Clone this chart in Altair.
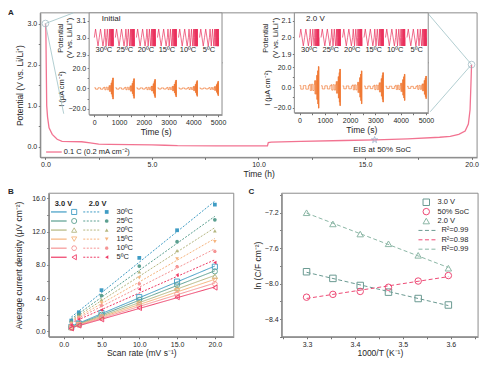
import altair as alt
import pandas as pd

FONT = "Liberation Sans"
W, H = 473, 353
SX, SY = W / 484.0, H / 364.0


def px(x):
    return (x - 5) * SX


def py(y):
    return (y - 3) * SY


TXT = "#262626"
FRAME = "#8c8c8c"
STAR = "M0,-1L0.2245,-0.309L0.951,-0.309L0.363,0.118L0.588,0.809L0,0.382L-0.588,0.809L-0.363,0.118L-0.951,-0.309L-0.2245,-0.309Z"
HEX = "M-1,0L-0.5,-0.866L0.5,-0.866L1,0L0.5,0.866L-0.5,0.866Z"

# ---------------- Panel A data ----------------
a_time = [0.0, 0.02, 0.04, 0.06, 0.1, 0.17, 0.32, 0.55, 0.78, 1.2, 1.7, 2.1, 2.5, 3.0, 4.0,
          5.0, 5.6, 6.2, 8.0, 10.0, 10.42, 10.46, 10.6, 12.0, 14.0, 15.5, 17.0, 18.5, 19.0,
          19.4, 19.7, 19.85, 19.93, 19.97, 20.0]
a_volt = [3.0, 2.85, 1.9, 1.0, 0.72, 0.46, 0.30, 0.18, 0.13, 0.125, 0.12, 0.09, 0.06, 0.055, 0.05,
          0.045, 0.035, 0.025, 0.02, 0.02, 0.02, 0.10, 0.11, 0.13, 0.15, 0.165, 0.19, 0.23, 0.25,
          0.30, 0.38, 0.55, 0.9, 1.5, 2.0]
zoom_t = [0.0, 20.0]
zoom_v = [3.0, 2.0]
eis_t = [15.45]
eis_v = [0.165]

# ---------------- shared temperature / scan-rate data ----------------
temps = ["30ºC", "25ºC", "20ºC", "15ºC", "10ºC", "5ºC"]
temp_colors = ["#3f9cc4", "#5b9f90", "#b4b67f", "#f6b47d", "#f59595", "#ee3c67"]
rates = [1, 2, 5, 10, 15, 20]
j_30V = [
    [0.52, 0.95, 2.20, 4.11, 5.98, 7.77],
    [0.48, 0.90, 2.00, 3.80, 5.56, 7.20],
    [0.45, 0.85, 1.83, 3.50, 5.18, 6.63],
    [0.42, 0.80, 1.71, 3.27, 4.87, 6.13],
    [0.39, 0.75, 1.60, 3.04, 4.49, 5.71],
    [0.36, 0.70, 1.44, 2.81, 4.11, 5.26],
]
j_20V = [
    [1.30, 2.29, 4.95, 8.83, 12.15, 15.23],
    [1.15, 2.00, 4.30, 7.84, 10.78, 13.40],
    [1.05, 1.83, 3.80, 7.15, 9.71, 12.07],
    [0.95, 1.67, 3.43, 6.43, 8.72, 10.78],
    [0.85, 1.60, 3.08, 5.71, 7.77, 9.60],
    [0.75, 1.44, 2.58, 5.06, 6.78, 8.26],
]
ins_starts = [0, 850, 1700, 2550, 3400, 4250]
GAIN = 1.35

# ---------------- Panel C data ----------------
inv_T = [3.299, 3.354, 3.411, 3.470, 3.532, 3.595]
c_30V = [-7.865, -7.94, -8.02, -8.095, -8.167, -8.24]
c_soc = [-8.152, -8.12, -8.087, -8.04, -7.97, -7.908]
c_20V = [-7.20, -7.326, -7.44, -7.55, -7.68, -7.825]
c_series = ["3.0 V", "50% SoC", "2.0 V"]
c_colors = ["#6b9a92", "#ee4b76", "#8cb7a6"]
c_shapes = ["square", "circle", "triangle-up"]
c_r2 = ["R²=0.99", "R²=0.98", "R²=0.99"]

one = pd.DataFrame({"k": [0]})
BOT = 342  # bottom frame line of panels B and C (reference pixels)


def xaxis(y_page, **kw):
    return alt.Axis(orient="bottom", offset=py(y_page) - H, **kw)


def yaxis(x_page, **kw):
    return alt.Axis(orient="left", offset=-px(x_page), **kw)


def box(x0, y0, x1, y1, fill=None):
    mk = dict(stroke=FRAME, strokeWidth=1)
    if fill:
        mk["fill"] = fill
    else:
        mk["fillOpacity"] = 0
    return alt.Chart(one).mark_rect(**mk).encode(
        x=alt.value(px(x0)), x2=alt.value(px(x1)), y=alt.value(py(y0)), y2=alt.value(py(y1)))


def label(text, x, y, size=8, weight="normal", align="left", color=TXT, baseline="middle"):
    return alt.Chart(one).mark_text(fontSize=size, fontWeight=weight, align=align,
                                    baseline=baseline, color=color, font=FONT).encode(
        x=alt.value(px(x)), y=alt.value(py(y)), text=alt.value(text))


layers = []

# ================= Panel A =================
sAx = alt.Scale(domain=[-0.243, 20.26], range=[px(38), px(485)], nice=False, zero=False)
sAy = alt.Scale(domain=[-0.26, 3.26], range=[py(157), py(8)], nice=False, zero=False)
axAx = xaxis(157, values=[i * 2.5 for i in range(9)],
             labelExpr="datum.value % 5 == 0 ? format(datum.value, '.1f') : ''",
             title="Time (h)", titlePadding=2)
axAy = yaxis(38, values=[i * 0.5 for i in range(7)],
             labelExpr="datum.value % 1 == 0 ? format(datum.value, '.1f') : ''",
             title="Potential (V vs. Li/Li⁺)", titlePadding=3)


def tA(xp):
    return (xp - 43.3) / 21.8


def vA(yp):
    return (146 - yp) / 42.33


guides = pd.DataFrame({"t": [0, 0, 20, 20], "v": [3.0, 3.0, 2.0, 2.0],
                       "t2": [tA(72), tA(62), tA(435), tA(437)],
                       "v2": [vA(8), vA(112), vA(9), vA(110)]})

layers.append(box(38, 8, 485, 157))
layers.append(alt.Chart(pd.DataFrame({"t": a_time, "v": a_volt})).mark_line(
    color="#f27391", strokeWidth=1.3).encode(
    x=alt.X("t:Q", scale=sAx, axis=axAx), y=alt.Y("v:Q", scale=sAy, axis=axAy)))
layers.append(alt.Chart(guides).mark_rule(color="#a9c8cc", strokeWidth=0.9).encode(
    x=alt.X("t:Q", scale=sAx, axis=None), y=alt.Y("v:Q", scale=sAy, axis=None),
    x2="t2:Q", y2="v2:Q"))
layers.append(alt.Chart(pd.DataFrame({"t": zoom_t, "v": zoom_v})).mark_point(
    shape="circle", filled=False, color="#9ab6c0", size=45, strokeWidth=1).encode(
    x=alt.X("t:Q", scale=sAx, axis=None), y=alt.Y("v:Q", scale=sAy, axis=None)))
layers.append(alt.Chart(pd.DataFrame({"t": eis_t, "v": eis_v})).mark_point(
    shape=STAR, filled=False, color="#8ea3c4", size=45, strokeWidth=1).encode(
    x=alt.X("t:Q", scale=sAx, axis=None), y=alt.Y("v:Q", scale=sAy, axis=None)))
layers.append(alt.Chart(pd.DataFrame({"t": [15.8], "v": [-0.08], "s": ["EIS at 50% SoC"]})).mark_text(
    fontSize=8, color=TXT, font=FONT).encode(
    x=alt.X("t:Q", scale=sAx, axis=None), y=alt.Y("v:Q", scale=sAy, axis=None), text="s:N"))
layers.append(alt.Chart(one).mark_rule(color="#f27391", strokeWidth=1.3).encode(
    x=alt.value(px(44)), x2=alt.value(px(60)), y=alt.value(py(151.5))))
layers.append(label("0.1 C (0.2 mA cm⁻²)", 62, 151.5, size=7.5))


# ================= Insets =================
def build_wave(center, cur_lists):
    pot, cur = [], []
    for g, t0 in enumerate(ins_starts):
        t = t0
        for rate, j in zip(rates, cur_lists[g]):
            q = 50.0 / rate
            a = j * GAIN
            for _ in range(2):
                for dt, dv in [(0, 0), (q, 0.05), (3 * q, -0.05), (4 * q, 0)]:
                    pot.append({"t": t + dt, "v": center + dv, "g": g, "i": len(pot)})
                for dt, s in [(0, 1), (q, 1), (q, -1), (3 * q, -1), (3 * q, 1), (4 * q, 1)]:
                    cur.append({"t": t + dt, "c": s * a, "g": g, "i": len(cur)})
                t += 4 * q
    return pd.DataFrame(pot), pd.DataFrame(cur)


def inset(x0, x1, xdom, ydom_up, ydom_lo, y_bot, center, cur_lists, title, title_t, yvals):
    out = [box(x0, 8, x1, y_bot, fill="white")]
    pot, cur = build_wave(center, cur_lists)
    sx = alt.Scale(domain=xdom, range=[px(x0), px(x1)], nice=False, zero=False)
    su = alt.Scale(domain=ydom_up, range=[py(59), py(8)], nice=False, zero=False)
    sl = alt.Scale(domain=ydom_lo, range=[py(y_bot), py(59)], nice=False, zero=False)
    tvals = [i * 500 for i in range(11)]
    out.append(alt.Chart(pot).mark_line(color="#ea2f5b", strokeWidth=0.7).encode(
        x=alt.X("t:Q", scale=sx, axis=xaxis(59, values=tvals, labels=False, title=None)),
        y=alt.Y("v:Q", scale=su, axis=yaxis(x0, values=yvals, format=".1f",
                                             title=["Potential", "(V vs. Li/Li⁺)"],
                                             titleFontSize=7.5, titlePadding=2)),
        detail="g:N", order="i:Q"))
    lbl = pd.DataFrame({"t": [s + 383 for s in ins_starts], "v": [center - 0.075] * 6, "s": temps})
    out.append(alt.Chart(lbl).mark_text(fontSize=7.5, color=TXT, font=FONT).encode(
        x=alt.X("t:Q", scale=sx, axis=None), y=alt.Y("v:Q", scale=su, axis=None), text="s:N"))
    ttl = pd.DataFrame({"t": [title_t], "v": [center + 0.108], "s": [title]})
    out.append(alt.Chart(ttl).mark_text(fontSize=8, color=TXT, font=FONT, align="left").encode(
        x=alt.X("t:Q", scale=sx, axis=None), y=alt.Y("v:Q", scale=su, axis=None), text="s:N"))
    out.append(alt.Chart(cur).mark_line(color="#f07a35", strokeWidth=0.7).encode(
        x=alt.X("t:Q", scale=sx, axis=xaxis(y_bot, values=tvals,
                                             labelExpr="datum.value % 1000 == 0 ? format(datum.value, 'd') : ''",
                                             title="Time (s)", titlePadding=2)),
        y=alt.Y("c:Q", scale=sl, axis=yaxis(x0, values=[-20, -10, 0, 10, 20],
                                             labelExpr="datum.value % 20 == 0 ? format(datum.value, '.1f') : ''",
                                             title="I (μA cm⁻²)", titleFontSize=7.5, titlePadding=2)),
        detail="g:N", order="i:Q"))
    return out


layers += inset(88, 224, [-210, 5158], [2.855, 3.145], [-26, 26], 113, 3.0, j_30V,
                "Initial", 300, [2.9, 3.0, 3.1])
layers += inset(298, 435, [-205, 5089], [1.853, 2.146], [-25.1, 24.8], 111, 2.0, j_20V,
                "2.0 V", 259, [1.9, 2.0, 2.1])

# ================= Panel B =================
rowsB = []
for volt, table in [("3.0 V", j_30V), ("2.0 V", j_20V)]:
    for temp, vals in zip(temps, table):
        for r, j in zip(rates, vals):
            rowsB.append({"volt": volt, "temp": temp, "rate": r, "j": j})
dfB = pd.DataFrame(rowsB)
sBx = alt.Scale(domain=[-1.98, 22.5], range=[px(46.7), px(236)], nice=False, zero=False)
sBy = alt.Scale(domain=[-0.65, 16.6], range=[py(BOT), py(194)], nice=False, zero=False)
sBc = alt.Scale(domain=temps, range=temp_colors)
b_shapes = ["square", "circle", "triangle-up", "triangle-down", HEX, "triangle-left"]
sBs = alt.Scale(domain=temps, range=b_shapes)
sBd = alt.Scale(domain=["3.0 V", "2.0 V"], range=[[1, 0], [2, 1.5]])
axBx = xaxis(BOT, values=[i * 2.5 for i in range(9)],
             labelExpr="datum.value % 5 == 0 ? format(datum.value, '.1f') : ''",
             title="Scan rate (mV s⁻¹)", titlePadding=1)
axBy = yaxis(46.7, values=[i * 2 for i in range(9)],
             labelExpr="datum.value % 4 == 0 ? format(datum.value, '.1f') : ''",
             title="Average current density (μV cm⁻²)", titlePadding=8)

layers.append(box(46.7, 194, 236, BOT))
layers.append(alt.Chart(dfB).transform_regression(
    "rate", "j", groupby=["volt", "temp"]).mark_line(strokeWidth=1).encode(
    x=alt.X("rate:Q", scale=sBx, axis=axBx), y=alt.Y("j:Q", scale=sBy, axis=axBy),
    color=alt.Color("temp:N", scale=sBc, legend=None),
    strokeDash=alt.StrokeDash("volt:N", scale=sBd, legend=None),
    detail="volt:N"))
layers.append(alt.Chart(dfB).transform_filter("datum.volt == '3.0 V'").mark_point(
    filled=False, size=26, strokeWidth=0.9, opacity=1).encode(
    x=alt.X("rate:Q", scale=sBx, axis=None), y=alt.Y("j:Q", scale=sBy, axis=None),
    color=alt.Color("temp:N", scale=sBc, legend=None),
    shape=alt.Shape("temp:N", scale=sBs, legend=None)))
layers.append(alt.Chart(dfB).transform_filter("datum.volt == '2.0 V'").mark_point(
    filled=True, size=14, opacity=1).encode(
    x=alt.X("rate:Q", scale=sBx, axis=None), y=alt.Y("j:Q", scale=sBy, axis=None),
    color=alt.Color("temp:N", scale=sBc, legend=None),
    shape=alt.Shape("temp:N", scale=sBs, legend=None)))

# Panel B legend
dfLB = pd.DataFrame({"temp": temps})
sLB = alt.Scale(type="point", domain=temps, range=[py(213.3), py(260)], padding=0)
yLB = alt.Y("temp:N", scale=sLB, axis=None)
cLB = alt.Color("temp:N", scale=sBc, legend=None)
layers += [
    alt.Chart(dfLB).mark_rule(strokeWidth=1.2).encode(
        x=alt.value(px(49)), x2=alt.value(px(65)), y=yLB, color=cLB),
    alt.Chart(dfLB).mark_point(filled=False, size=26, strokeWidth=0.9, opacity=1).encode(
        x=alt.value(px(72.7)), y=yLB, color=cLB, shape=alt.Shape("temp:N", scale=sBs, legend=None)),
    alt.Chart(dfLB).mark_rule(strokeWidth=1, strokeDash=[2, 1.5]).encode(
        x=alt.value(px(82)), x2=alt.value(px(100)), y=yLB, color=cLB),
    alt.Chart(dfLB).mark_point(filled=True, size=14, opacity=1).encode(
        x=alt.value(px(106)), y=yLB, color=cLB, shape=alt.Shape("temp:N", scale=sBs, legend=None)),
    alt.Chart(dfLB).mark_text(fontSize=7.5, align="left", color=TXT, font=FONT).encode(
        x=alt.value(px(116)), y=yLB, text="temp:N"),
]
layers.append(label("3.0 V", 61.7, 205, size=7.5, weight="bold", align="center"))
layers.append(label("2.0 V", 96.7, 205, size=7.5, weight="bold", align="center"))

# ================= Panel C =================
rowsC = []
for s, vals in zip(c_series, [c_30V, c_soc, c_20V]):
    for x, y in zip(inv_T, vals):
        rowsC.append({"series": s, "x": x, "y": y})
dfC = pd.DataFrame(rowsC)
sCx = alt.Scale(domain=[3.247, 3.657], range=[px(285), px(486)], nice=False, zero=False)
sCy = alt.Scale(domain=[-8.598, -6.98], range=[py(BOT), py(194)], nice=False, zero=False)
sCc = alt.Scale(domain=c_series, range=c_colors)
sCs = alt.Scale(domain=c_series, range=c_shapes)
axCx = xaxis(BOT, values=[3.25, 3.3, 3.35, 3.4, 3.45, 3.5, 3.55, 3.6, 3.65],
             labelExpr="abs(datum.value*10 - round(datum.value*10)) < 0.01 ? format(datum.value, '.1f') : ''",
             title="1000/T (K⁻¹)", titlePadding=1)
axCy = yaxis(285, values=[-7.0, -7.2, -7.4, -7.6, -7.8, -8.0, -8.2, -8.4, -8.6],
             labelExpr="abs(datum.value/0.4 - round(datum.value/0.4)) < 0.01 ? format(datum.value, '.1f') : ''",
             title="ln (C/F cm⁻²)", titlePadding=2)

layers.append(box(285, 194, 486, BOT))
layers.append(alt.Chart(dfC).transform_regression("x", "y", groupby=["series"]).mark_line(
    strokeWidth=1, strokeDash=[4, 2.5]).encode(
    x=alt.X("x:Q", scale=sCx, axis=axCx), y=alt.Y("y:Q", scale=sCy, axis=axCy),
    color=alt.Color("series:N", scale=sCc, legend=None)))
layers.append(alt.Chart(dfC).mark_point(filled=False, size=42, strokeWidth=1, opacity=1).encode(
    x=alt.X("x:Q", scale=sCx, axis=None), y=alt.Y("y:Q", scale=sCy, axis=None),
    color=alt.Color("series:N", scale=sCc, legend=None),
    shape=alt.Shape("series:N", scale=sCs, legend=None)))

# Panel C legend
sLC = alt.Scale(type="point", domain=[0, 1, 2, 3, 4, 5], range=[py(203.3), py(251.7)], padding=0)
dfLC1 = pd.DataFrame({"row": [0, 1, 2], "series": c_series})
dfLC2 = pd.DataFrame({"row": [3, 4, 5], "series": c_series, "r2": c_r2})
layers += [
    alt.Chart(dfLC1).mark_point(filled=False, size=42, strokeWidth=1, opacity=1).encode(
        x=alt.value(px(433)), y=alt.Y("row:O", scale=sLC, axis=None),
        color=alt.Color("series:N", scale=sCc, legend=None),
        shape=alt.Shape("series:N", scale=sCs, legend=None)),
    alt.Chart(dfLC1).mark_text(fontSize=7.5, align="left", color=TXT, font=FONT).encode(
        x=alt.value(px(444.5)), y=alt.Y("row:O", scale=sLC, axis=None), text="series:N"),
    alt.Chart(dfLC2).mark_rule(strokeWidth=1, strokeDash=[4, 2.5]).encode(
        x=alt.value(px(425)), x2=alt.value(px(445)), y=alt.Y("row:O", scale=sLC, axis=None),
        color=alt.Color("series:N", scale=sCc, legend=None)),
    alt.Chart(dfLC2).mark_text(fontSize=7.5, align="left", color=TXT, font=FONT).encode(
        x=alt.value(px(448.5)), y=alt.Y("row:O", scale=sLC, axis=None), text="r2:N"),
]

# panel letters
layers.append(label("A", 5, 4, size=8, weight="bold", baseline="top"))
layers.append(label("B", 5, 193, size=8, weight="bold"))
layers.append(label("C", 251, 193, size=8, weight="bold"))

chart = alt.layer(*layers).resolve_scale(
    x="independent", y="independent", color="independent",
    shape="independent", strokeDash="independent"
).properties(
    width=W, height=H, autosize=alt.AutoSizeParams(type="none"), padding=0
).configure(font=FONT).configure_view(stroke=None).configure_axis(
    labelFont=FONT, labelFontSize=7, titleFont=FONT, titleFontSize=8.5,
    titleFontWeight="normal", grid=False, domainColor="#707070", tickColor="#707070",
    tickSize=2, labelPadding=1.5, labelColor=TXT, titleColor=TXT, domainWidth=1
)

chart.save("out.html", embed_options={"renderer": "svg", "actions": False})
